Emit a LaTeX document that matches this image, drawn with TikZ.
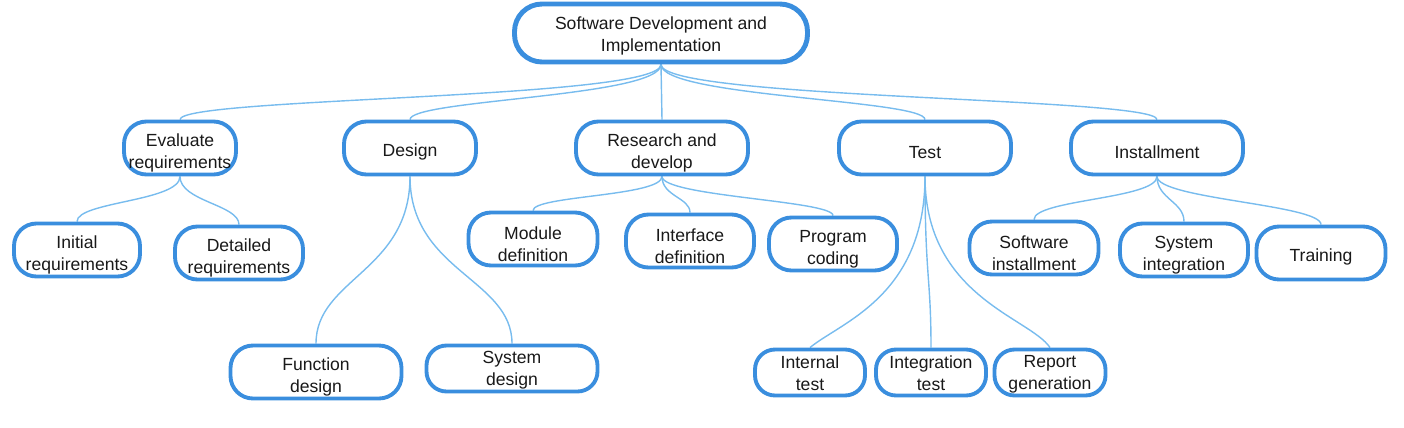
\documentclass[tikz,border=0pt]{standalone}
\usepackage{fontspec}
\setmainfont{Liberation Sans}
\usepackage{xcolor}
\usepackage{tikz}
\usetikzlibrary{positioning, backgrounds}

\definecolor{mapblue}{RGB}{58,142,222}
\definecolor{linkblue}{RGB}{120,188,238}

\begin{document}
\begin{tikzpicture}[
  every node/.style={font=\fontsize{10}{12.5}\selectfont, text=black!90},
  lift/.code={\def\liftht{#1}},
  topbox/.style={
    rectangle, rounded corners=0.55cm,
    draw=mapblue, fill=white,
    minimum width=5.86cm, minimum height=1.16cm,
    align=center, line width=2.8pt, inner sep=0pt,
    lift=23pt, execute at begin node={\rule{0pt}{\liftht}}},
  box/.style={
    rectangle, rounded corners=0.45cm,
    draw=mapblue, fill=white,
    minimum width=#1, minimum height=1.06cm,
    align=center, line width=2.2pt, inner sep=0pt,
    lift=25.5pt, execute at begin node={\rule{0pt}{\liftht}}},
  lowbox/.style={box=#1, minimum height=0.92cm, rounded corners=0.4cm, lift=21pt},
  oneline/.style={lift=12pt},
  link/.style={draw=linkblue, line width=0.8pt}
]
\useasboundingbox (0,0) rectangle (28.08,-8.54);

%% ── ROOT ─────────────────────────────────────────────────
\node[topbox] (root) at (13.22,-0.66) {Software Development and\\Implementation};

%% ── FIRST LEVEL ──────────────────────────────────────────
\node[box=2.24cm] (eval)              at (3.60,-2.96)  {Evaluate\\requirements};
\node[box=2.64cm, oneline] (design)   at (8.20,-2.96)  {Design};
\node[box=3.44cm] (research)          at (13.24,-2.96) {Research and\\develop};
\node[box=3.44cm, oneline] (test)     at (18.50,-2.96) {Test};
\node[box=3.44cm, oneline] (install)  at (23.14,-2.96) {Installment};

%% ── SECOND LEVEL ─────────────────────────────────────────
\node[box=2.52cm] (initial)  at (1.54,-5.00)  {Initial\\requirements};
\node[box=2.56cm] (detailed) at (4.78,-5.06)  {Detailed\\requirements};

\node[box=3.42cm]    (funcdes) at (6.32,-7.44)  {Function\\design};
\node[lowbox=3.42cm] (sysdes)  at (10.24,-7.37) {System\\design};

\node[box=2.58cm] (module)    at (10.66,-4.78) {Module\\definition};
\node[box=2.56cm] (interface) at (13.80,-4.82) {Interface\\definition};
\node[box=2.56cm] (program)   at (16.66,-4.88) {Program\\coding};

\node[lowbox=2.20cm] (internal) at (16.20,-7.45) {Internal\\test};
\node[lowbox=2.20cm] (integ)    at (18.62,-7.45) {Integration\\test};
\node[lowbox=2.22cm] (report)   at (21.00,-7.45) {Report\\generation};

\node[box=2.58cm] (swinst)            at (20.68,-4.96) {Software\\installment};
\node[box=2.56cm] (sysint)            at (23.68,-5.00) {System\\integration};
\node[box=2.58cm, oneline] (training) at (26.42,-5.06) {Training};

%% ── LINKS (behind the boxes) ─────────────────────────────
\begin{scope}[on background layer]
%% Root links
\draw[link] (root.south) .. controls +(0,-0.7) and +(0,0.45) .. (eval.north);
\draw[link] (root.south) .. controls +(0,-0.65) and +(0,0.4) .. (design.north);
\draw[link] (root.south) -- (research.north);
\draw[link] (root.south) .. controls +(0,-0.65) and +(0,0.4) .. (test.north);
\draw[link] (root.south) .. controls +(0,-0.7) and +(0,0.45) .. (install.north);

%% Evaluate links
\draw[link] (eval.south) .. controls +(0,-0.5) and +(0,0.4) .. (initial.north);
\draw[link] (eval.south) .. controls +(0,-0.5) and +(0,0.4) .. (detailed.north);

%% Design links
\draw[link] (design.south) .. controls +(0,-1.9) and +(0,1.3) .. (funcdes.north);
\draw[link] (design.south) .. controls +(0,-1.9) and +(0,1.3) .. (sysdes.north);

%% Research links
\draw[link] (research.south) .. controls +(0,-0.4) and +(0,0.3) .. (module.north);
\draw[link] (research.south) .. controls +(0,-0.4) and +(0,0.3) .. (interface.north);
\draw[link] (research.south) .. controls +(0,-0.4) and +(0,0.3) .. (program.north);

%% Test links
\draw[link] (test.south) .. controls +(0,-2.4) and +(0.6,0.5) .. (internal.north);
\draw[link] (test.south) .. controls +(0,-2.0) and +(0,1.4) .. (integ.north);
\draw[link] (test.south) .. controls +(0,-2.4) and +(-0.4,0.6) .. (report.north);

%% Installment links
\draw[link] (install.south) .. controls +(0,-0.45) and +(0,0.4) .. (swinst.north);
\draw[link] (install.south) .. controls +(0,-0.45) and +(0,0.4) .. (sysint.north);
\draw[link] (install.south) .. controls +(0,-0.45) and +(0,0.4) .. (training.north);
\end{scope}

\end{tikzpicture}
\end{document}
